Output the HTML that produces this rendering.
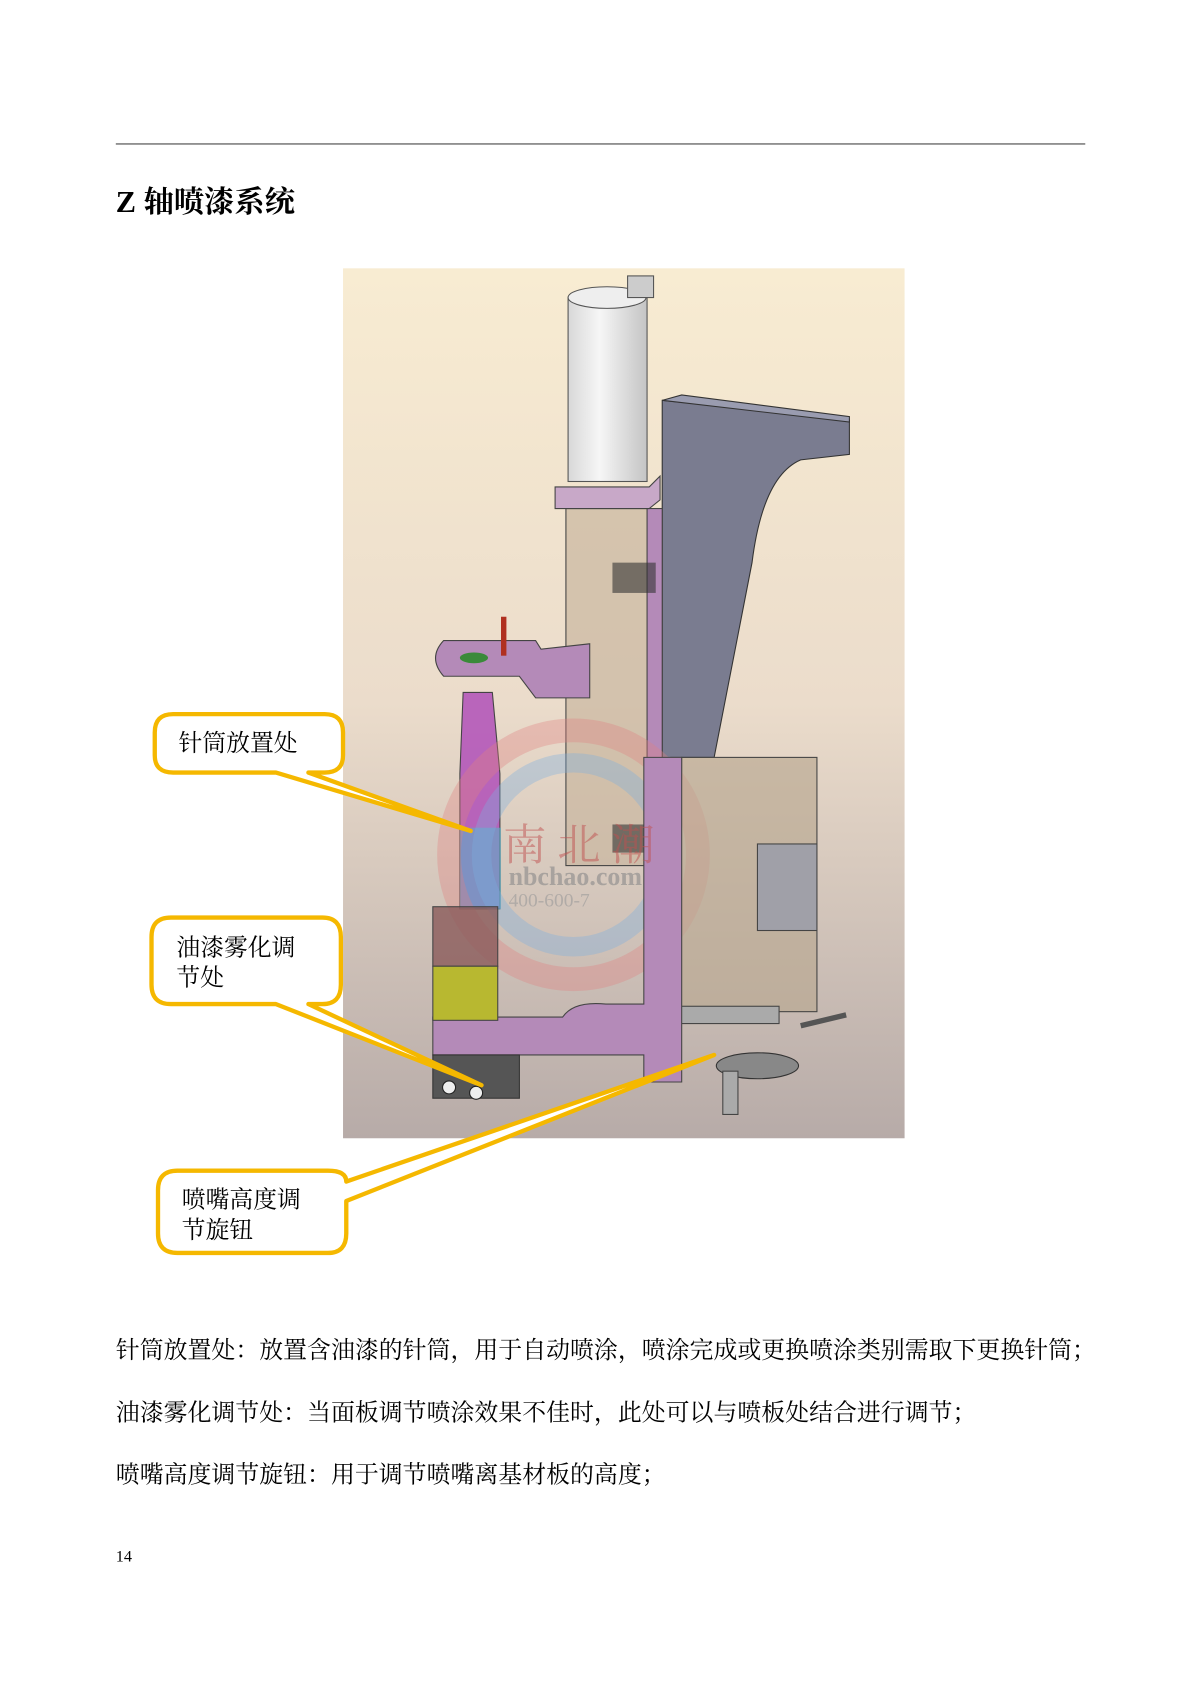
<!DOCTYPE html>
<html><head><meta charset="utf-8"><style>
html,body{margin:0;padding:0;background:#fff;}
svg{display:block;}
text{font-family:"Liberation Serif","Noto Serif CJK SC","Noto Sans CJK SC",serif;}
</style></head><body>
<svg width="1200" height="1697" viewBox="0 0 1109 1568.4" xmlns="http://www.w3.org/2000/svg">
<defs>
<linearGradient id="bg" x1="0" y1="0" x2="0" y2="1">
<stop offset="0" stop-color="#f8ecd2"/><stop offset="0.5" stop-color="#ebdccb"/><stop offset="1" stop-color="#b7aba8"/>
</linearGradient>
<linearGradient id="mot" x1="0" y1="0" x2="1" y2="0">
<stop offset="0" stop-color="#d8d8d8"/><stop offset="0.4" stop-color="#f6f6f6"/><stop offset="1" stop-color="#c4c4c4"/>
</linearGradient>
</defs>
<line x1="107" y1="133" x2="1003" y2="133" stroke="#808080" stroke-width="1.5"/>
<text x="107" y="196" font-size="28" font-weight="bold" font-family="Liberation Sans,Noto Sans CJK SC,sans-serif">Z 轴喷漆系统</text>

<rect x="317" y="248" width="519" height="804" fill="url(#bg)"/>
<path d="M612 370 L785 388 L785 420 L740 425 Q705 440 695 520 L660 700 L630 700 L630 720 L612 720 Z" fill="#7a7c90" stroke="#333" stroke-width="1"/>
<path d="M612 370 L630 365 L785 385 L785 390 Z" fill="#9a9cb0" stroke="#333"/>
<rect x="523" y="470" width="87" height="330" fill="#c9b7a0" fill-opacity="0.7" stroke="#444"/>
<rect x="598" y="470" width="14" height="350" fill="#b48ab8" stroke="#444"/>
<rect x="566" y="520" width="40" height="28" fill="#333" fill-opacity="0.6"/>
<rect x="566" y="762" width="40" height="26" fill="#333" fill-opacity="0.6"/>
<rect x="525" y="275" width="73" height="170" fill="url(#mot)" stroke="#555"/>
<ellipse cx="561" cy="275" rx="36" ry="10" fill="#eee" stroke="#555"/>
<rect x="580" y="255" width="24" height="20" fill="#ccc" stroke="#555"/>
<path d="M513 450 L600 450 L610 440 L610 462 L600 470 L513 470 Z" fill="#c8a8c8" stroke="#444"/>
<path d="M410 592 L495 592 L500 600 L545 595 L545 645 L495 645 L480 625 L410 625 Q395 608 410 592 Z" fill="#b48ab8" stroke="#444"/>
<ellipse cx="438" cy="608" rx="13" ry="5" fill="#3a8a3a"/>
<rect x="463" y="570" width="5" height="36" fill="#b03020"/>
<path d="M428 640 L455 640 L462 715 L462 840 L425 840 L425 715 Z" fill="#b050b8" fill-opacity="0.85" stroke="#444"/>
<rect x="425" y="765" width="38" height="75" fill="#5ab0c8" fill-opacity="0.6"/>
<circle cx="530" cy="790" r="115" fill="none" stroke="#e08080" stroke-width="22" stroke-opacity="0.35"/>
<circle cx="530" cy="790" r="85" fill="none" stroke="#7ab0e0" stroke-width="18" stroke-opacity="0.35"/>
<rect x="620" y="700" width="135" height="235" fill="#b8a890" fill-opacity="0.65" stroke="#444"/>
<rect x="700" y="780" width="55" height="80" fill="#a0a0a8" stroke="#444"/>
<rect x="620" y="930" width="100" height="16" fill="#aaa" stroke="#444"/>
<ellipse cx="700" cy="985" rx="38" ry="12" fill="#888" stroke="#333"/>
<rect x="668" y="990" width="14" height="40" fill="#aaa" stroke="#444"/>
<path d="M740 948 L782 938" stroke="#555" stroke-width="5"/>
<path d="M400 940 L520 940 Q530 925 560 928 L595 928 L595 700 L630 700 L630 1000 L595 1000 L595 975 L400 975 Z" fill="#b48ab8" stroke="#444"/>
<rect x="400" y="838" width="60" height="55" fill="#8a5a5a" fill-opacity="0.8" stroke="#444"/>
<rect x="400" y="893" width="60" height="50" fill="#b8b830" stroke="#444"/>
<rect x="400" y="975" width="80" height="40" fill="#555" stroke="#333"/>
<circle cx="415" cy="1005" r="6" fill="#eee" stroke="#222"/><circle cx="440" cy="1010" r="6" fill="#eee" stroke="#222"/>
<text x="465" y="795" font-size="40" fill="#c05050" fill-opacity="0.5">南 北 潮</text>
<text x="470" y="818" font-size="24" font-weight="bold" fill="#888" fill-opacity="0.6" font-family="Liberation Sans,sans-serif">nbchao.com</text>
<text x="470" y="838" font-size="18" fill="#999" fill-opacity="0.6">400-600-7</text>

<g fill="#fff" stroke="#f5b800" stroke-width="4" stroke-linejoin="round">
<path d="M160 660 L300 660 Q317 660 317 677 L317 698 Q317 714 300 714 L285 714 L435 768 L255 714 L160 714 Q143 714 143 698 L143 677 Q143 660 160 660 Z"/>
<path d="M158 848 L298 848 Q315 848 315 866 L315 910 Q315 928 298 928 L285 928 L445 1003 L255 928 L158 928 Q140 928 140 910 L140 866 Q140 848 158 848 Z"/>
<path d="M164 1082 L303 1082 Q320 1082 320 1092 L660 975 L320 1110 L320 1140 Q320 1158 303 1158 L164 1158 Q146 1158 146 1140 L146 1100 Q146 1082 164 1082 Z"/>
</g>
<g font-size="22" fill="#000">
<text x="165" y="694">针筒放置处</text>
<text x="163" y="883">油漆雾化调</text>
<text x="163" y="911">节处</text>
<text x="168" y="1116">喷嘴高度调</text>
<text x="168" y="1144">节旋钮</text>
</g>
<g font-size="22.1" fill="#000">
<text x="107" y="1255">针筒放置处：放置含油漆的针筒，用于自动喷涂，喷涂完成或更换喷涂类别需取下更换针筒；</text>
<text x="107" y="1313">油漆雾化调节处：当面板调节喷涂效果不佳时，此处可以与喷板处结合进行调节；</text>
<text x="107" y="1370">喷嘴高度调节旋钮：用于调节喷嘴离基材板的高度；</text>
</g>
<text x="107" y="1443" font-size="15">14</text>
</svg>
</body></html>
